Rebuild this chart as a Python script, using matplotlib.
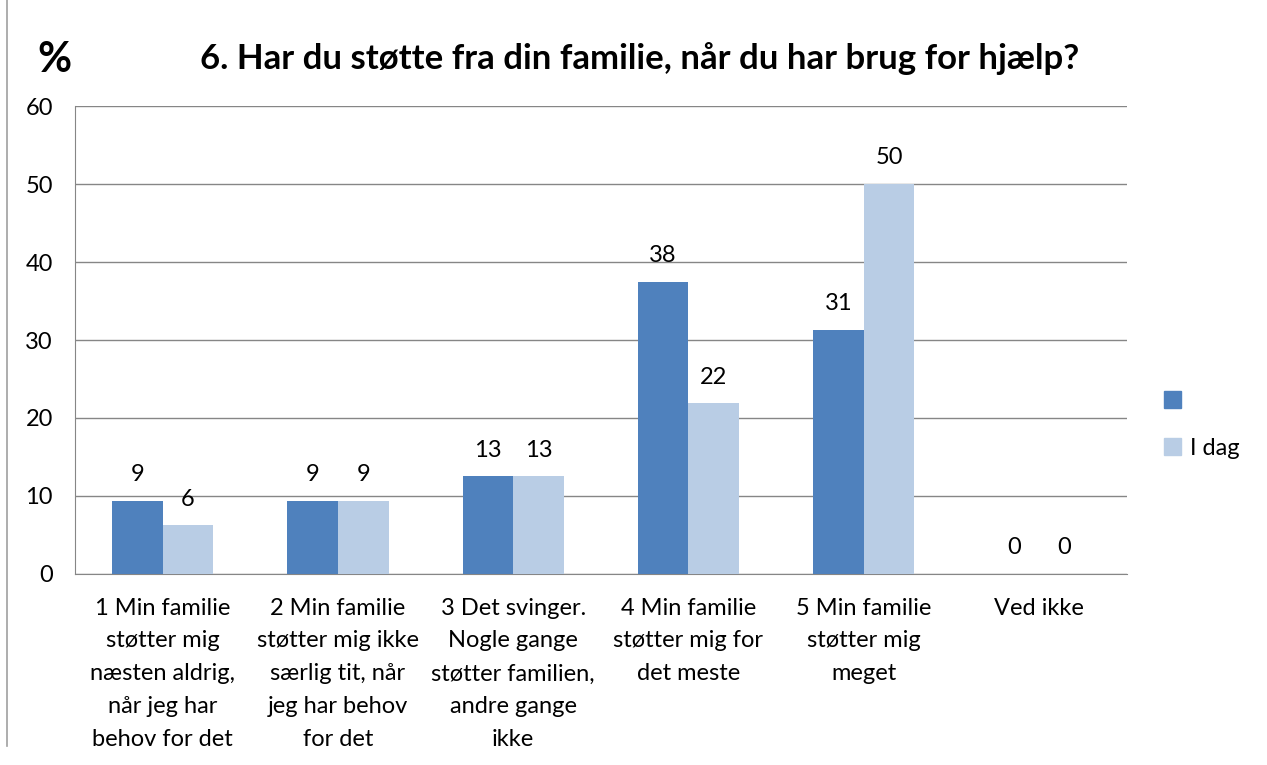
import matplotlib.pyplot as plt
import numpy as np
from matplotlib.lines import Line2D
from matplotlib.patches import Patch

categories = [
    "1 Min familie\nstøtter mig\nnæsten aldrig,\nnår jeg har\nbehov for det",
    "2 Min familie\nstøtter mig ikke\nsærlig tit, når\njeg har behov\nfor det",
    "3 Det svinger.\nNogle gange\nstøtter familien,\nandre gange\nikke",
    "4 Min familie\nstøtter mig for\ndet meste",
    "5 Min familie\nstøtter mig\nmeget",
    "Ved ikke",
]
before = [9.4, 9.4, 12.5, 37.5, 31.3, 0]
today = [6.25, 9.4, 12.5, 21.9, 50.0, 0]
series_names = [" ", "I dag"]

plt.rcParams["font.family"] = ["Lato", "DejaVu Sans"]

fig = plt.figure(figsize=(12.67, 7.65), dpi=100)
ax = fig.add_axes([0.0592, 0.2497, 0.830, 0.6117])

x = np.arange(len(categories))
w = 0.289
dark = "#4F81BD"
light = "#B9CDE5"
b1 = ax.bar(x - w / 2, before, w, color=dark, zorder=3)
b2 = ax.bar(x + w / 2, today, w, color=light, zorder=3)

for bars, vals in ((b1, before), (b2, today)):
    for rect, v in zip(bars, vals):
        ax.text(rect.get_x() + rect.get_width() / 2, v + 2.0, str(int(v + 0.5)),
                ha="center", va="bottom", fontsize=17)

ax.set_xlim(-0.5, len(categories) - 0.5)
ax.set_ylim(0, 60)
ax.set_yticks(range(0, 61, 10))
ax.yaxis.grid(True, color="#868686", linewidth=1, zorder=0)
ax.set_xticks(x)
ax.set_xticklabels(categories, fontsize=17)
for lbl in ax.get_xticklabels():
    lbl.set_linespacing(1.7)
ax.tick_params(axis="x", length=0, pad=17)
ax.tick_params(axis="y", length=0, pad=16, labelsize=17)
for s in ("top", "right"):
    ax.spines[s].set_visible(False)
for s in ("left", "bottom"):
    ax.spines[s].set_color("#868686")

fig.text(0.505, 0.924, "6. Har du støtte fra din familie, når du har brug for hjælp?",
         ha="center", va="center", fontsize=25, fontweight="bold")
fig.text(0.043, 0.922, "%", ha="center", va="center", fontsize=30, fontweight="bold")

handles = [Patch(color=dark), Patch(color=light)]
fig.legend(handles, series_names, loc="center left", bbox_to_anchor=(0.902, 0.445),
           frameon=False, fontsize=17, handlelength=0.7, handleheight=0.7,
           labelspacing=1.1, handletextpad=0.4)

fig.add_artist(Line2D([0.0055, 0.0055], [0.025, 1.0], color="#A0A0A0", linewidth=1.2))

fig.savefig("out.png", dpi=100)
